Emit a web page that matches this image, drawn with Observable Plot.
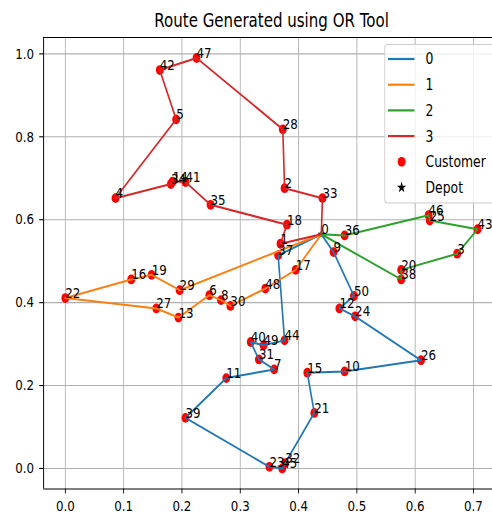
<!DOCTYPE html>
<html>
<head>
<meta charset="utf-8">
<script src="https://cdn.jsdelivr.net/npm/d3@7"></script>
<script src="https://cdn.jsdelivr.net/npm/@observablehq/plot@0.6"></script>
<style>
  html, body { margin: 0; padding: 0; overflow: hidden; background: white; }
  #wrap { width: 624px; transform: scaleX(0.8); transform-origin: 0 0; }
  svg { display: block; }
</style>
</head>
<body>
<div id="wrap"></div>
<script>
// Node ids (0 = depot), coordinates
const nodeIds = d3.range(0, 51);
const nodeX = [0.439, 0.369, 0.376, 0.672, 0.086, 0.190, 0.247, 0.358, 0.267, 0.460,
               0.479, 0.276, 0.470, 0.194, 0.184, 0.415, 0.113, 0.395, 0.380, 0.148,
               0.576, 0.427, 0.000, 0.350, 0.497, 0.625, 0.610, 0.156, 0.373, 0.196,
               0.283, 0.332, 0.377, 0.441, 0.181, 0.249, 0.479, 0.365, 0.576, 0.206,
               0.318, 0.206, 0.162, 0.707, 0.376, 0.372, 0.623, 0.225, 0.343, 0.340,
               0.495];
const nodeY = [0.565, 0.542, 0.676, 0.518, 0.652, 0.842, 0.418, 0.239, 0.406, 0.522,
               0.234, 0.218, 0.386, 0.364, 0.692, 0.231, 0.456, 0.479, 0.588, 0.467,
               0.479, 0.134, 0.411, 0.004, 0.367, 0.598, 0.261, 0.386, 0.818, 0.430,
               0.392, 0.263, 0.013, 0.652, 0.686, 0.636, 0.562, 0.514, 0.456, 0.122,
               0.305, 0.691, 0.961, 0.577, 0.309, 0.000, 0.611, 0.990, 0.434, 0.297,
               0.416];
// Vehicle routes (sequence of node ids)
const route0 = [0, 37, 44, 49, 40, 31, 7, 11, 39, 23, 45, 32, 21, 15, 10, 26, 24, 12, 50, 9, 0];
const route1 = [0, 17, 48, 30, 8, 6, 13, 27, 22, 16, 19, 29, 0];
const route2 = [0, 36, 46, 25, 43, 3, 20, 38, 0];
const route3 = [0, 33, 2, 28, 47, 42, 5, 4, 34, 14, 41, 35, 18, 1, 0];
const routeNames = ["0", "1", "2", "3"];
const routeColors = ["#1f77b4", "#ff7f0e", "#2ca02c", "#d62728"];
const legendLabels = ["0", "1", "2", "3", "Customer", "Depot"];
const xTicks = [0.0, 0.1, 0.2, 0.3, 0.4, 0.5, 0.6, 0.7];
const yTicks = [0.0, 0.2, 0.4, 0.6, 0.8, 1.0];
const titleText = "Route Generated using OR Tool";

const nodes = nodeIds.map(i => ({id: String(i), x: nodeX[i], y: nodeY[i]}));
const customers = nodes.slice(1);
const depot = nodes.slice(0, 1);
const routeRows = [route0, route1, route2, route3].flatMap((r, k) =>
  r.map(i => ({route: routeNames[k], x: nodeX[i], y: nodeY[i]})));

const xDom = [-0.0373, 0.7448];
const yDom = [-0.0495, 1.0395];
const fmt = d3.format(".1f");

const chart = Plot.plot({
  width: 624,
  height: 519,
  marginLeft: 54,
  marginRight: 0,
  marginTop: 37,
  marginBottom: 30.5,
  style: {fontFamily: "DejaVu Sans", fontSize: "14.5px", color: "black", background: "white", overflow: "visible"},
  x: {domain: xDom, label: null},
  y: {domain: yDom, label: null},
  color: {domain: routeNames, range: routeColors},
  marks: [
    Plot.gridX(xTicks, {stroke: "#b0b0b0", strokeOpacity: 1, strokeWidth: 1.1}),
    Plot.gridY(yTicks, {stroke: "#b0b0b0", strokeOpacity: 1, strokeWidth: 1.1}),
    Plot.dot(customers, {x: "x", y: "y", r: 4.9, fill: "red", stroke: "none"}),
    Plot.dot(depot, {x: "x", y: "y", symbol: "star", r: 3, fill: "black", stroke: "none"}),
    Plot.line(routeRows, {x: "x", y: "y", z: "route", stroke: "route", strokeWidth: 2}),
    Plot.text(nodes, {x: "x", y: "y", text: "id", textAnchor: "start", lineAnchor: "bottom", fontSize: 14.8, fill: "black"}),
    Plot.axisX(xTicks, {label: null, tickSize: 5, tickPadding: 6, tickFormat: fmt, fontSize: 14.8, strokeWidth: 1.1}),
    Plot.axisY(yTicks, {label: null, tickSize: 5, tickPadding: 7, tickFormat: fmt, fontSize: 14.8, strokeWidth: 1.1}),
    Plot.ruleX([xDom[0]], {stroke: "black", strokeWidth: 1.2}),
    Plot.ruleY(yDom, {stroke: "black", strokeWidth: 1.1}),
    Plot.text([titleText], {frameAnchor: "top", dy: -11, lineAnchor: "bottom", fontSize: 18.8, fill: "black"})
  ]
});

// Legend box (upper right, like matplotlib)
const svg = d3.select(chart);
const lg = svg.append("g").attr("font-family", "DejaVu Sans").attr("font-size", 15.5).attr("text-anchor", "start");
lg.append("rect").attr("x", 481).attr("y", 44.5).attr("width", 136).attr("height", 158.5)
  .attr("rx", 3).attr("fill", "white").attr("fill-opacity", 0.8)
  .attr("stroke", "#cccccc").attr("stroke-width", 1.1);
const rowY = (k) => 59 + k * 25.7;
legendLabels.forEach((lab, k) => {
  const cy = rowY(k);
  if (k < 4) {
    lg.append("line").attr("x1", 485).attr("x2", 518).attr("y1", cy).attr("y2", cy)
      .attr("stroke", routeColors[k]).attr("stroke-width", 2.2);
  } else if (lab === "Customer") {
    lg.append("circle").attr("cx", 502).attr("cy", cy).attr("r", 4.9).attr("fill", "red");
  } else {
    lg.append("path").attr("d", d3.symbol(d3.symbolStar, 40)())
      .attr("transform", `translate(502,${cy})`).attr("fill", "black");
  }
  lg.append("text").attr("x", 532).attr("y", cy).attr("dy", "0.35em")
    .attr("text-anchor", "start").attr("fill", "black").text(lab);
});

document.getElementById("wrap").appendChild(chart);
</script>
</body>
</html>
